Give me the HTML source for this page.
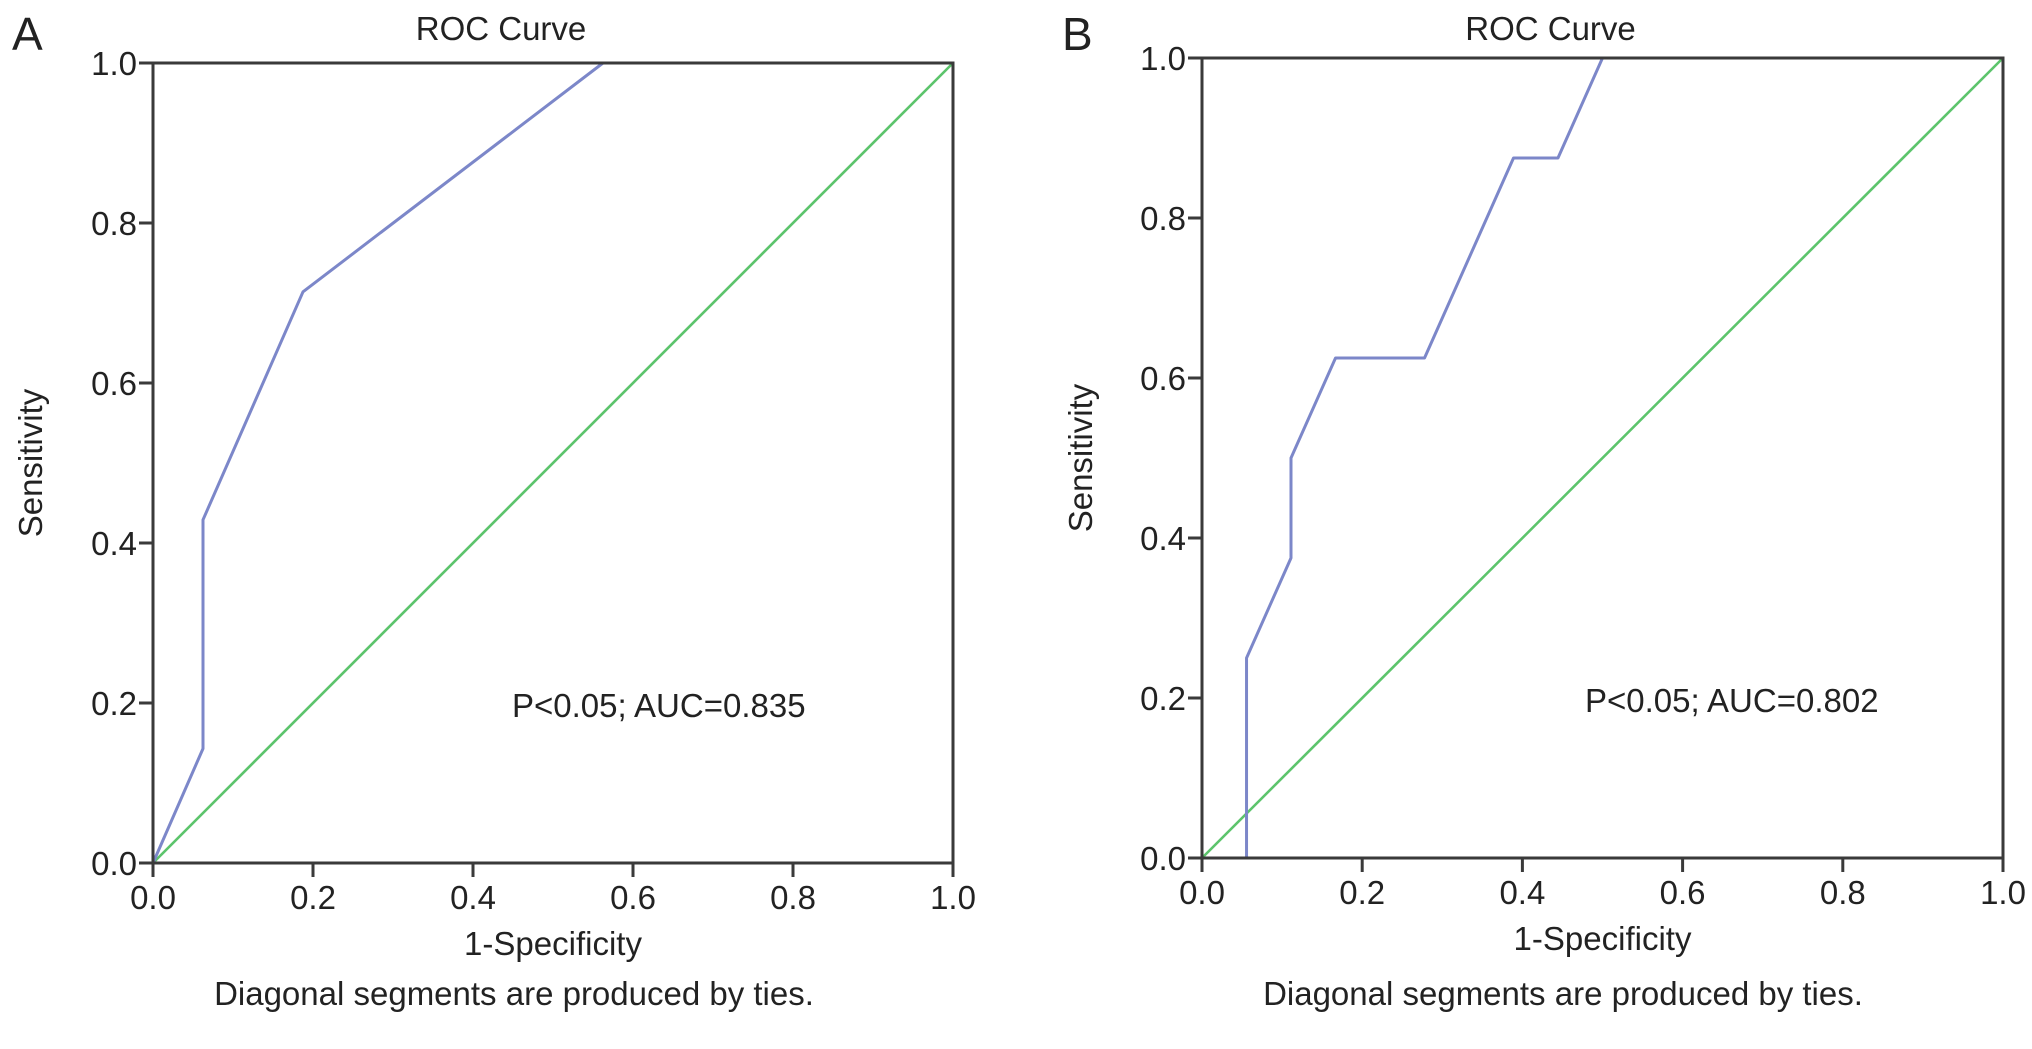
<!DOCTYPE html>
<html><head><meta charset="utf-8"><style>
html,body{margin:0;padding:0;background:#fff;}
svg text{font-family:"Liberation Sans",Arial,sans-serif;fill:#222;}
</style></head><body>
<svg id="fig" width="2032" height="1044" viewBox="0 0 2032 1044" xmlns="http://www.w3.org/2000/svg"></svg>
<script>
const ticks = [0, 0.2, 0.4, 0.6, 0.8, 1.0];
const tickLabels = ["0.0","0.2","0.4","0.6","0.8","1.0"];
const aFpr = [0, 0.0625, 0.0625, 0.1875, 0.5625, 1];
const aTpr = [0, 0.143, 0.429, 0.714, 1, 1];
const bFpr = [0, 0.0556, 0.0556, 0.1111, 0.1111, 0.1667, 0.2778, 0.3889, 0.4444, 0.5, 1];
const bTpr = [0, 0, 0.25, 0.375, 0.5, 0.625, 0.625, 0.875, 0.875, 1, 1];
const refX = [0, 1];
const refY = [0, 1];

const NS = "http://www.w3.org/2000/svg";
const svg = document.getElementById('fig');
function mk(tag, attrs, parent, text){
  const e = document.createElementNS(NS, tag);
  for (const k in attrs) e.setAttribute(k, attrs[k]);
  if (text !== undefined) e.textContent = text;
  (parent||svg).appendChild(e);
  return e;
}
const FS = 33;
function panel(id, letter, letterX, L, T, W, H, fx, fy, aucText, aucX, sensX, noteX){
  const g = mk('g', {});
  
  
  const sx = v => L + v * W;
  const sy = v => T + H - v * H;
  const lt = mk('text', {x: letterX, y: 50, 'font-size': 46}, g, letter);
  
  
  const tt = mk('text', {x: L + W/2 - 52, y: 40, 'font-size': FS, 'text-anchor': 'middle'}, g, 'ROC Curve');
  
  
  const d = mk('polyline', {points: refX.map((x,i)=>sx(x)+','+sy(refY[i])).join(' '), fill:'none', stroke:'#5cc46c', 'stroke-width':2.6}, g);
  
  
  const c = mk('polyline', {points: fx.map((x,i)=>sx(x)+','+sy(fy[i])).join(' '), fill:'none', stroke:'#7c87c9', 'stroke-width':3, 'stroke-linejoin':'round'}, g);
  
  
  const f = mk('rect', {x:L, y:T, width:W, height:H, fill:'none', stroke:'#3a3a3a', 'stroke-width':3}, g);
  
  
  ticks.forEach((v,i)=>{
    const xt = mk('line', {x1:sx(v), x2:sx(v), y1:T+H, y2:T+H+14, stroke:'#3a3a3a', 'stroke-width':3}, g);
    
    
    const xl = mk('text', {x:sx(v), y:T+H+46, 'font-size':FS, 'text-anchor':'middle'}, g, tickLabels[i]);
    
    
    const yt = mk('line', {x1:L-14, x2:L, y1:sy(v), y2:sy(v), stroke:'#3a3a3a', 'stroke-width':3}, g);
    
    
    const yl = mk('text', {x:L-16, y:sy(v)+12, 'font-size':FS, 'text-anchor':'end'}, g, tickLabels[i]);
    
    
  });
  const xa = mk('text', {x:L+W/2, y:T+H+92, 'font-size':FS, 'text-anchor':'middle'}, g, '1-Specificity');
  
  
  const ya = mk('text', {x:0, y:0, 'font-size':FS, 'text-anchor':'middle', transform:'translate('+sensX+','+(T+H/2)+') rotate(-90)'}, g, 'Sensitivity');
  
  
  const au = mk('text', {x:aucX, y:sy(0.2)+14, 'font-size':FS}, g, aucText);
  
  
  const nt = mk('text', {x:noteX, y:1005, 'font-size':FS, 'text-anchor':'middle'}, g, 'Diagonal segments are produced by ties.');
  
  
}
panel('a', 'A', 12, 153, 63, 800, 800, aFpr, aTpr, 'P<0.05; AUC=0.835', 512, 42, 514);
panel('b', 'B', 1062, 1202, 58, 801, 800, bFpr, bTpr, 'P<0.05; AUC=0.802', 1585, 1092, 1563);
</script>
</body></html>
